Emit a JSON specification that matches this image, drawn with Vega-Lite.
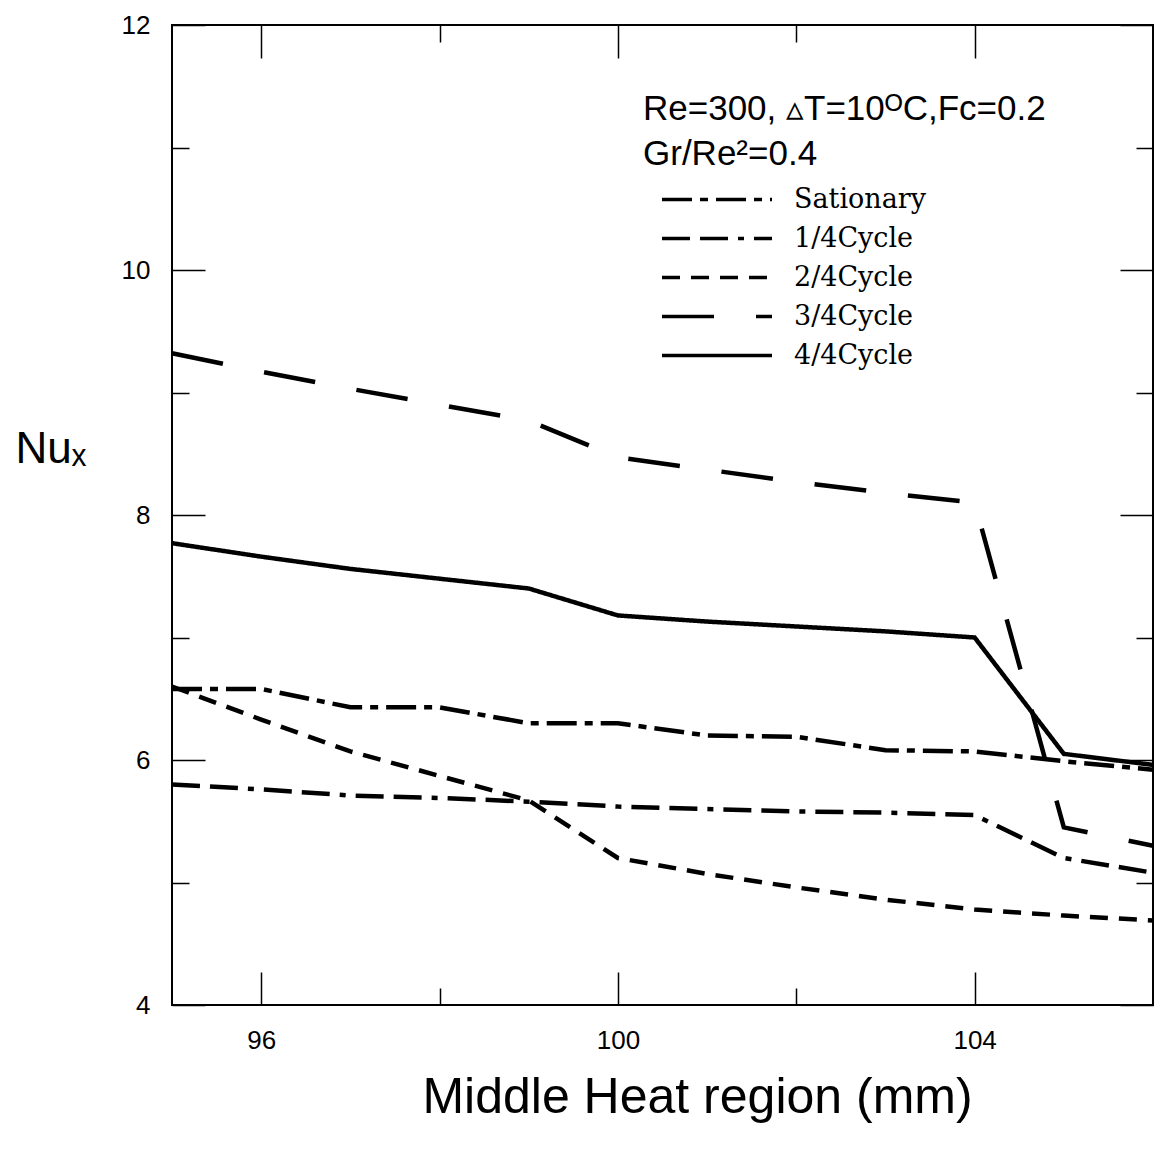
{
  "$schema": "https://vega.github.io/schema/vega-lite/v6.json",
  "width": 981,
  "height": 980,
  "autosize": {"type": "none"},
  "padding": {"left": 172, "top": 25, "right": 3, "bottom": 146},
  "background": "white",
  "config": {
    "view": {"stroke": "black", "strokeWidth": 2},
    "axis": {
      "grid": false,
      "domain": false,
      "tickColor": "black",
      "tickWidth": 1.5,
      "labelColor": "black",
      "titleColor": "black",
      "labelFont": "Liberation Sans",
      "titleFont": "Liberation Sans",
      "titleFontWeight": "normal",
      "labelFontSize": 26
    }
  },
  "datasets": {
    "curves": [
      {"series": "3/4Cycle", "x": 95, "nu": 9.32},
      {"series": "3/4Cycle", "x": 96, "nu": 9.17},
      {"series": "3/4Cycle", "x": 97, "nu": 9.03},
      {"series": "3/4Cycle", "x": 98, "nu": 8.9},
      {"series": "3/4Cycle", "x": 99, "nu": 8.77},
      {"series": "3/4Cycle", "x": 100, "nu": 8.47},
      {"series": "3/4Cycle", "x": 101, "nu": 8.37},
      {"series": "3/4Cycle", "x": 102, "nu": 8.27},
      {"series": "3/4Cycle", "x": 103, "nu": 8.18},
      {"series": "3/4Cycle", "x": 104, "nu": 8.1},
      {"series": "3/4Cycle", "x": 105, "nu": 5.45},
      {"series": "3/4Cycle", "x": 106, "nu": 5.3},
      {"series": "4/4Cycle", "x": 95, "nu": 7.77},
      {"series": "4/4Cycle", "x": 96, "nu": 7.66},
      {"series": "4/4Cycle", "x": 97, "nu": 7.56},
      {"series": "4/4Cycle", "x": 98, "nu": 7.48},
      {"series": "4/4Cycle", "x": 99, "nu": 7.4},
      {"series": "4/4Cycle", "x": 100, "nu": 7.18},
      {"series": "4/4Cycle", "x": 101, "nu": 7.13},
      {"series": "4/4Cycle", "x": 102, "nu": 7.09},
      {"series": "4/4Cycle", "x": 103, "nu": 7.05},
      {"series": "4/4Cycle", "x": 104, "nu": 7.0},
      {"series": "4/4Cycle", "x": 105, "nu": 6.05},
      {"series": "4/4Cycle", "x": 106, "nu": 5.96},
      {"series": "Sationary", "x": 95, "nu": 6.58},
      {"series": "Sationary", "x": 96, "nu": 6.58},
      {"series": "Sationary", "x": 97, "nu": 6.43},
      {"series": "Sationary", "x": 98, "nu": 6.43},
      {"series": "Sationary", "x": 99, "nu": 6.3},
      {"series": "Sationary", "x": 100, "nu": 6.3},
      {"series": "Sationary", "x": 101, "nu": 6.2},
      {"series": "Sationary", "x": 102, "nu": 6.19},
      {"series": "Sationary", "x": 103, "nu": 6.08},
      {"series": "Sationary", "x": 104, "nu": 6.07},
      {"series": "Sationary", "x": 105, "nu": 5.99},
      {"series": "Sationary", "x": 106, "nu": 5.92},
      {"series": "1/4Cycle", "x": 95, "nu": 5.8},
      {"series": "1/4Cycle", "x": 96, "nu": 5.76},
      {"series": "1/4Cycle", "x": 97, "nu": 5.71},
      {"series": "1/4Cycle", "x": 98, "nu": 5.69},
      {"series": "1/4Cycle", "x": 99, "nu": 5.66},
      {"series": "1/4Cycle", "x": 100, "nu": 5.62},
      {"series": "1/4Cycle", "x": 101, "nu": 5.6},
      {"series": "1/4Cycle", "x": 102, "nu": 5.58},
      {"series": "1/4Cycle", "x": 103, "nu": 5.57},
      {"series": "1/4Cycle", "x": 104, "nu": 5.55},
      {"series": "1/4Cycle", "x": 105, "nu": 5.2},
      {"series": "1/4Cycle", "x": 106, "nu": 5.08},
      {"series": "2/4Cycle", "x": 95, "nu": 6.6},
      {"series": "2/4Cycle", "x": 96, "nu": 6.33},
      {"series": "2/4Cycle", "x": 97, "nu": 6.07},
      {"series": "2/4Cycle", "x": 98, "nu": 5.87},
      {"series": "2/4Cycle", "x": 99, "nu": 5.67},
      {"series": "2/4Cycle", "x": 100, "nu": 5.2},
      {"series": "2/4Cycle", "x": 101, "nu": 5.07},
      {"series": "2/4Cycle", "x": 102, "nu": 4.96},
      {"series": "2/4Cycle", "x": 103, "nu": 4.86},
      {"series": "2/4Cycle", "x": 104, "nu": 4.78},
      {"series": "2/4Cycle", "x": 105, "nu": 4.73},
      {"series": "2/4Cycle", "x": 106, "nu": 4.69}
    ]
  },
  "data": {"name": "curves"},
  "layer": [
    {
      "mark": {"type": "line", "strokeWidth": 4.5, "color": "black", "strokeCap": "butt"},
      "encoding": {
        "x": {
          "field": "x",
          "type": "quantitative",
          "scale": {"domain": [95, 106], "nice": false, "zero": false},
          "axis": {
            "orient": "bottom",
            "values": [96, 98, 100, 102, 104],
            "tickSize": {"condition": {"test": "datum.value % 4 === 0", "value": -33}, "value": -17},
            "labelExpr": "datum.value % 4 === 0 ? datum.label : ''",
            "labelPadding": 55,
            "title": "Middle Heat region (mm)",
            "titleFontSize": 50,
            "titleX": 525,
            "titleY": 107,
            "titleAlign": "center",
            "titleBaseline": "alphabetic"
          }
        },
        "y": {
          "field": "nu",
          "type": "quantitative",
          "scale": {"domain": [4, 12], "nice": false, "zero": false},
          "axis": {
            "orient": "left",
            "values": [4, 5, 6, 7, 8, 9, 10, 11, 12],
            "tickSize": {"condition": {"test": "datum.value % 2 === 0", "value": -33}, "value": -17},
            "labelExpr": "datum.value % 2 === 0 ? datum.label : ''",
            "labelPadding": 55,
            "title": "Nuₓ",
            "titleFontSize": 44,
            "titleAngle": 0,
            "titleAlign": "left",
            "titleBaseline": "alphabetic",
            "titleX": -157,
            "titleY": 437
          }
        },
        "strokeDash": {
          "field": "series",
          "type": "nominal",
          "scale": {
            "domain": ["Sationary", "1/4Cycle", "2/4Cycle", "3/4Cycle", "4/4Cycle"],
            "range": [[30, 8, 8, 8], [28, 10, 28, 10, 6, 10], [18, 11], [52, 42], [1, 0]]
          },
          "legend": {
            "orient": "none",
            "legendX": 471,
            "legendY": 67,
            "title": ["Re=300, ▵T=10ᴼC,Fc=0.2", "Gr/Re²=0.4"],
            "titleFont": "Liberation Sans",
            "titleFontSize": 35,
            "titleFontWeight": "normal",
            "titleColor": "black",
            "titleLimit": 800,
            "titleLineHeight": 45,
            "titlePadding": 8,
            "symbolType": "stroke",
            "symbolSize": 12100,
            "symbolStrokeWidth": 3.5,
            "symbolStrokeColor": "black",
            "symbolOffset": 17,
            "labelFont": "DejaVu Serif",
            "labelFontSize": 27,
            "labelColor": "black",
            "labelOffset": 20,
            "labelLimit": 400,
            "clipHeight": 39,
            "rowPadding": 0
          }
        }
      }
    },
    {
      "mark": {"type": "line", "opacity": 0},
      "encoding": {
        "x": {
          "field": "x",
          "type": "quantitative",
          "axis": {
            "orient": "top",
            "values": [96, 98, 100, 102, 104],
            "tickSize": {"condition": {"test": "datum.value % 4 === 0", "value": -33}, "value": -17},
            "labels": false,
            "title": null
          }
        },
        "y": {
          "field": "nu",
          "type": "quantitative",
          "axis": {
            "orient": "right",
            "values": [4, 5, 6, 7, 8, 9, 10, 11, 12],
            "tickSize": {"condition": {"test": "datum.value % 2 === 0", "value": -33}, "value": -17},
            "labels": false,
            "title": null
          }
        },
        "detail": {"field": "series", "type": "nominal"}
      }
    }
  ],
  "resolve": {"axis": {"x": "independent", "y": "independent"}}
}
